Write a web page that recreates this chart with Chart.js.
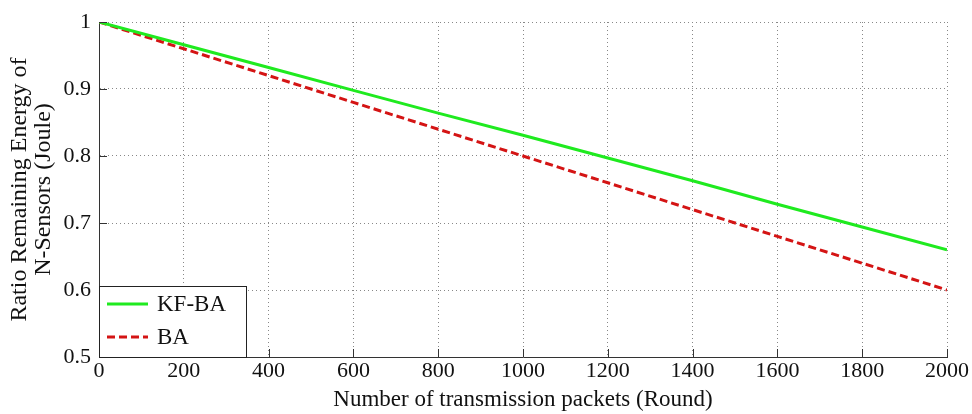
<!DOCTYPE html>
<html lang="en">
<head>
  <meta charset="UTF-8">
  <title>energy ratio</title>
  <script src="https://cdn.jsdelivr.net/npm/chart.js@4.4.1/dist/chart.umd.min.js"></script>
  <style>
    body { margin: 0; background: #fff; }
    #wrap { width: 972px; height: 414px; }
  </style>
</head>
<body>
  <div id="wrap"><canvas id="myChart" width="972" height="414"></canvas></div>
  <script>
    // rounds on the x axis
    const rounds = [0, 200, 400, 600, 800, 1000, 1200, 1400, 1600, 1800, 2000];
    const kfba = [1, 0.966, 0.932, 0.898, 0.864, 0.831, 0.797, 0.763, 0.728, 0.694, 0.66];
    const ba = [1, 0.96, 0.92, 0.88, 0.84, 0.80, 0.76, 0.72, 0.68, 0.64, 0.60];
    const seriesNames = ['KF-BA', 'BA'];
    const xTitle = 'Number of transmission packets (Round)';
    const yTitle = ['Ratio Remaining Energy of', 'N-Sensors (Joule)'];

    const serif = '"Liberation Serif", "Times New Roman", serif';

    function pts(vals) {
      return rounds.map((r, i) => ({ x: r, y: vals[i] }));
    }

    // inward tick marks + legend box, matlab style
    const extras = {
      id: 'extras',
      afterDraw(chart) {
        const ctx = chart.ctx;
        const xs = chart.scales.x, ys = chart.scales.y;
        const a = chart.chartArea;
        ctx.save();
        ctx.strokeStyle = '#333';
        ctx.lineWidth = 1;
        ctx.beginPath();
        xs.ticks.forEach(t => {
          const px = Math.round(xs.getPixelForValue(t.value)) + 0.5;
          ctx.moveTo(px, a.bottom);
          ctx.lineTo(px, a.bottom - 8);
        });
        ys.ticks.forEach(t => {
          const py = Math.round(ys.getPixelForValue(t.value)) + 0.5;
          ctx.moveTo(a.left, py);
          ctx.lineTo(a.left + 8, py);
        });
        ctx.stroke();

        // legend
        const bx = Math.round(a.left), by = Math.round(a.bottom) - 71, bw = 147, bh = 71;
        ctx.fillStyle = '#fff';
        ctx.fillRect(bx, by, bw, bh);
        ctx.strokeStyle = '#222';
        ctx.strokeRect(bx + 0.5, by + 0.5, bw, bh);
        ctx.font = '23px ' + serif;
        ctx.textBaseline = 'middle';
        chart.data.datasets.forEach((ds, i) => {
          const ly = by + 18 + i * 33;
          ctx.strokeStyle = ds.borderColor;
          ctx.lineWidth = ds.borderWidth;
          ctx.setLineDash(ds.borderDash || []);
          ctx.beginPath();
          ctx.moveTo(bx + 8, ly);
          ctx.lineTo(bx + 49, ly);
          ctx.stroke();
          ctx.setLineDash([]);
          ctx.fillStyle = '#111';
          ctx.fillText(ds.label, bx + 58, ly + 1);
        });
        ctx.restore();
      }
    };

    new Chart(document.getElementById('myChart'), {
      type: 'line',
      data: {
        datasets: [{
          label: seriesNames[0],
          data: pts(kfba),
          borderColor: '#1fea1f',
          borderWidth: 3,
          pointRadius: 0,
          tension: 0
        }, {
          label: seriesNames[1],
          data: pts(ba),
          borderColor: '#d41414',
          borderWidth: 3,
          borderDash: [8, 4],
          pointRadius: 0,
          tension: 0
        }]
      },
      options: {
        responsive: false,
        animation: false,
        layout: { padding: { left: 0, top: 22, right: 25, bottom: 0 } },
        plugins: { legend: { display: false }, tooltip: { enabled: false } },
        scales: {
          x: {
            type: 'linear',
            min: 0, max: 2000,
            border: { color: '#333', width: 1, dash: [1, 3] },
            grid: { color: '#888', drawTicks: false },
            ticks: {
              stepSize: 200, color: '#111', font: { family: serif, size: 22 }, padding: 1, maxRotation: 0,
              callback: v => String(v)
            },
            title: { display: true, text: xTitle, color: '#111', font: { family: serif, size: 23 }, padding: { top: 0, bottom: 0 } },
            afterFit(s) { s.height = 57; }
          },
          y: {
            min: 0.5, max: 1,
            border: { color: '#333', width: 1, dash: [1, 3] },
            grid: { color: '#888', drawTicks: false },
            ticks: {
              stepSize: 0.1, color: '#111', font: { family: serif, size: 22 }, padding: 8,
              callback: v => String(Math.round(v * 10) / 10)
            },
            title: { display: true, text: yTitle, color: '#111', font: { family: serif, size: 24, lineHeight: 1.0 }, padding: { top: 8, bottom: 2 } },
            afterFit(s) { s.width = 99; }
          }
        }
      },
      plugins: [extras]
    });
  </script>
</body>
</html>
